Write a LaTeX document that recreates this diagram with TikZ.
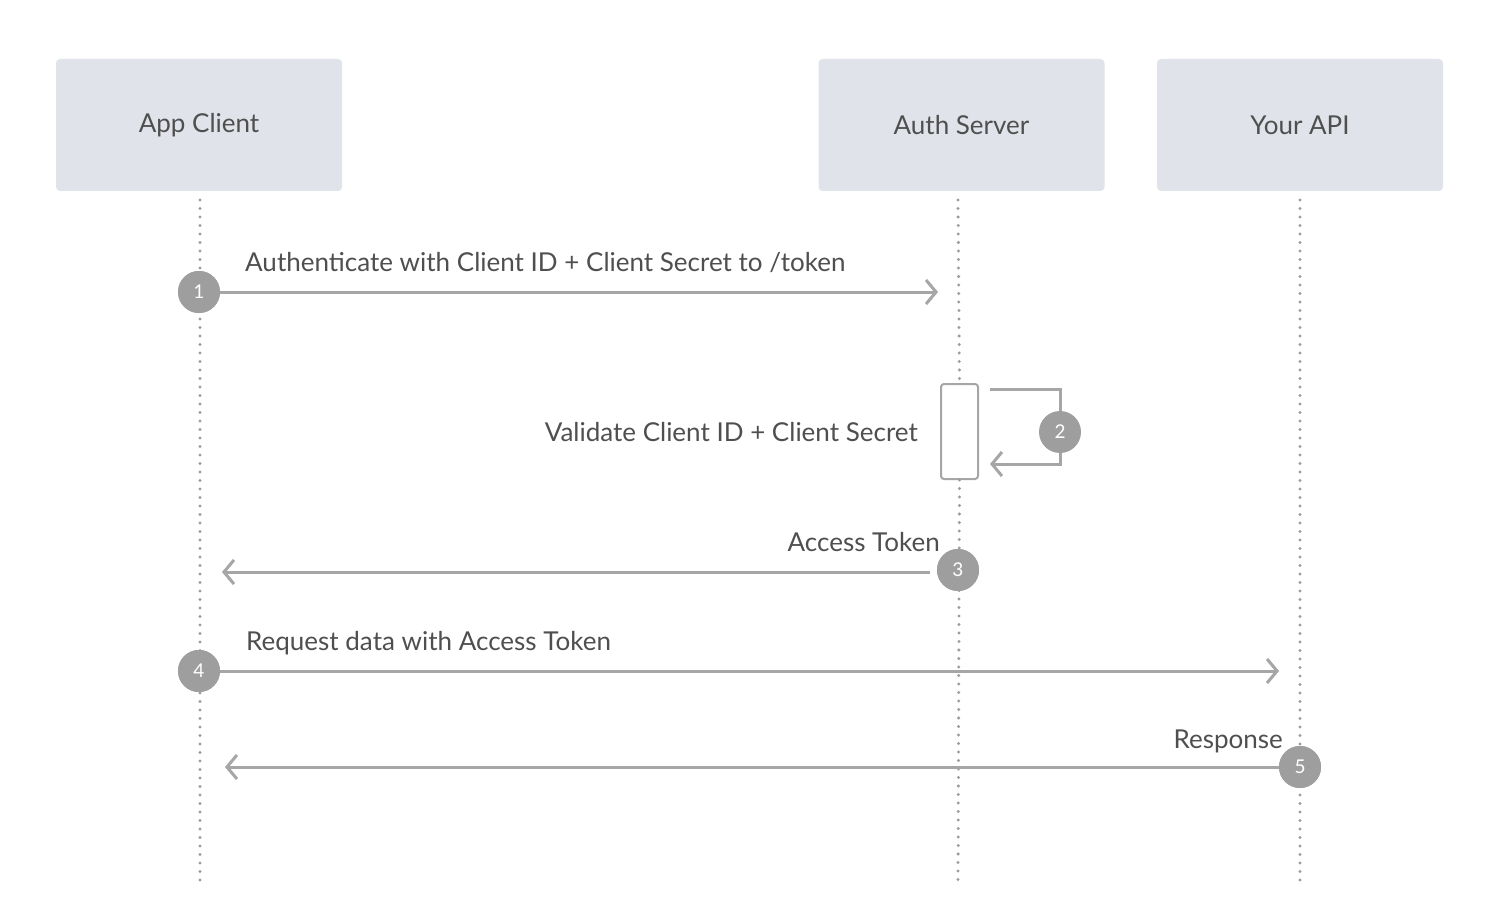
\documentclass[tikz,border=0pt]{standalone}
\usepackage{fontspec}
\setmainfont{Lato}
\usetikzlibrary{arrows.meta}
\definecolor{boxfill}{HTML}{E0E3E9}
\definecolor{txt}{HTML}{4F4F4F}
\definecolor{ln}{HTML}{A6A6A6}
\definecolor{dots}{HTML}{9C9C9C}
\definecolor{circ}{HTML}{9E9E9E}
\begin{document}
\begin{tikzpicture}[x=1pt,y=-1pt,
 actor/.style={fill=boxfill, rounded corners=4pt, minimum width=286pt, minimum height=132pt, inner sep=0pt, font=\fontsize{26}{30}\selectfont, text=txt},
 life/.style={draw=dots, line width=3.3pt, dash pattern=on 0pt off 8.5pt, line cap=round},
 num/.style={circle, fill=circ, minimum size=42pt, inner sep=0pt, text=white, font=\fontsize{19}{21}\selectfont},
 msg/.style={draw=ln, line width=3pt, -{Straight Barb[length=10pt,width=24pt]}},
 lbl/.style={text=txt, font=\fontsize{26}{30}\selectfont, inner sep=0pt},
]
\useasboundingbox (0,0) rectangle (1500,923);
\fill[white] (0,0) rectangle (1500,923);
% actors
\node[actor] (app) at (199,125) {App Client};
\node[actor] (auth) at (961.5,125) {Auth Server};
\node[actor] (api) at (1300,125) {Your API};
% lifeline ends
\coordinate (append) at (200,885);
\coordinate (authend) at (958,885);
\coordinate (apiend) at (1300,885);
% activation box
\node[draw=ln, line width=2pt, fill=white, rounded corners=3pt, minimum width=37pt, minimum height=95pt, inner sep=0pt] (act) at (959.5,431.5) {};
% lifelines
\draw[life] (200,200) -- (append);
\draw[life] (958,200) -- (act.north);
\draw[life] (act.south) -- (authend);
\draw[life] (1300,200) -- (apiend);
% circles positions
\node[num] (c1) at (199,292) {1};
\node[num] (c3) at (958,570) {3};
\node[num] (c4) at (199,671) {4};
\node[num] (c5) at (1300,767) {5};
% arrow end coordinates
\coordinate (e1) at (938,292);
\coordinate (s3) at (930,572);
\coordinate (e3) at (222,572);
\coordinate (e4) at (1279,671);
\coordinate (s5) at (1280,767);
\coordinate (e5) at (225,767);
\coordinate (l1) at (990,389);
\coordinate (l2) at (1060,389);
\coordinate (l3) at (1060,464);
\coordinate (l4) at (990,464);
% messages
\draw[msg] (c1) -- (e1);
\draw[msg] (s3) -- (e3);
\draw[msg] (c4) -- (e4);
\draw[msg] (s5) -- (e5);
\draw[msg] (l1) -- (l2) -- (l3) -- (l4);
% redraw circles on top
\node[num] at (c1) {1};
\node[num] at (c3) {3};
\node[num] at (c4) {4};
\node[num] at (c5) {5};
\node[num] (c2) at (1060,432) {2};
% labels
\node[lbl, anchor=base west] (t1) at (245,271) {Authenticate with Client ID + Client Secret to /token};
\node[lbl, anchor=base east] (t2) at (918,441) {Validate Client ID + Client Secret};
\node[lbl, anchor=base east] (t3) at (940,551) {Access Token};
\node[lbl, anchor=base west] (t4) at (246,650) {Request data with Access Token};
\node[lbl, anchor=base east] (t5) at (1283,748) {Response};
\end{tikzpicture}
\end{document}
